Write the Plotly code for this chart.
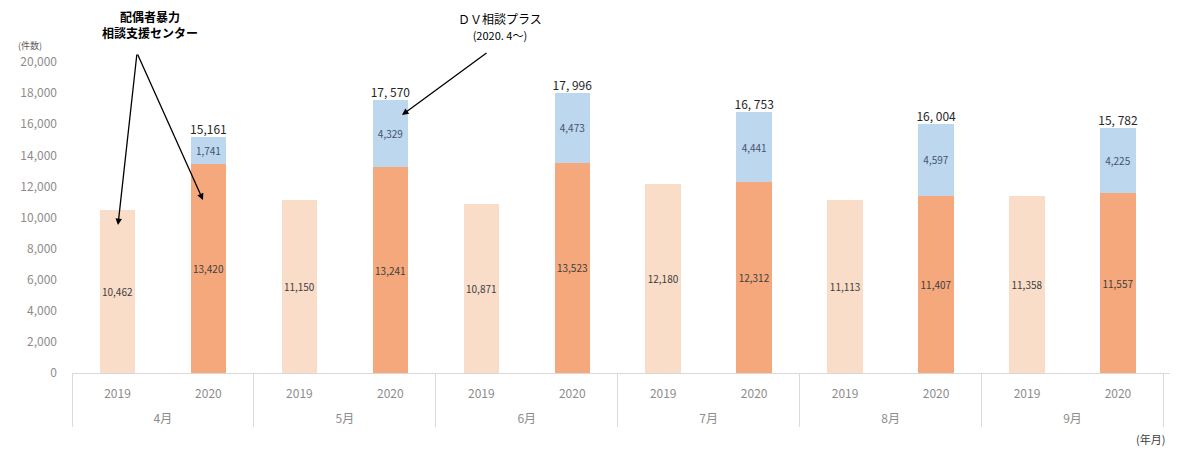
import plotly.graph_objects as go

months = ["4月", "5月", "6月", "7月", "8月", "9月"]
years = ["2019", "2020"]
center_2019 = [10462, 11150, 10871, 12180, 11113, 11358]
center_2020 = [13420, 13241, 13523, 12312, 11407, 11557]
dv_2020 = [1741, 4329, 4473, 4441, 4597, 4225]
total_labels = ["15,161", "17, 570", "17, 996", "16, 753", "16, 004", "15, 782"]

FONT = "Noto Sans CJK JP, Noto Sans, sans-serif"

# outer level labels pushed one line down (as in the reference)
outer = ["<br>" + m for m in months]
x19 = [outer, [years[0]] * len(months)]
x20 = [outer, [years[1]] * len(months)]
totals = [a + b for a, b in zip(center_2020, dv_2020)]

fig = go.Figure()
fig.add_trace(go.Bar(
    x=x19, y=center_2019, marker_color="#F9DDC9", marker_line_width=0,
    text=[f"{v:,}" for v in center_2019], textposition="inside",
    insidetextanchor="middle", textangle=0,
    textfont=dict(size=10, color="#404040"), name="2019"))
fig.add_trace(go.Bar(
    x=x20, y=center_2020, marker_color="#F4A87C", marker_line_width=0,
    text=[f"{v:,}" for v in center_2020], textposition="inside",
    insidetextanchor="middle", textangle=0,
    textfont=dict(size=10, color="#404040"), name="センター"))
fig.add_trace(go.Bar(
    x=x20, y=dv_2020, marker_color="#BDD7EE", marker_line_width=0,
    text=[f"{v:,}" for v in dv_2020], textposition="inside",
    insidetextanchor="middle", textangle=0,
    textfont=dict(size=10, color="#44546A"), name="DV相談プラス"))
fig.add_trace(go.Scatter(
    x=x20, y=totals, mode="text", text=total_labels,
    textposition="top center", textfont=dict(size=12, color="#262626"),
    cliponaxis=False, hoverinfo="skip"))

# page body has an 8px margin: figure spans screen 8..1178 x 8..450
W, H = 1170, 442
L, R, T, B = 64, 5, 54, 77
pw, ph = W - L - R, H - T - B
SX0, SY1 = 72, 373  # screen position of plot left / plot bottom


def px(x):
    return (x - SX0) / pw


def py(y):
    return (SY1 - y) / ph


arrow = dict(showarrow=True, arrowhead=2, arrowsize=1, arrowwidth=1.3,
             arrowcolor="#000000", text="", xref="paper", yref="paper")
txt = dict(xref="paper", yref="paper", showarrow=False,
           xanchor="center", yanchor="middle")
anns = [
    dict(x=px(118), y=py(225), ax=137 - 118, ay=53 - 225, **arrow),
    dict(x=px(203), y=py(200), ax=137 - 203, ay=53 - 200, **arrow),
    dict(x=px(402), y=py(115), ax=488 - 402, ay=52 - 115, **arrow),
    dict(x=px(150), y=py(24), text="<b>配偶者暴力</b><br><b>相談支援センター</b>",
         font=dict(size=12, color="#000000"), align="center", **txt),
    dict(x=px(500), y=py(26),
         text="ＤＶ相談プラス<br><span style='font-size:11px'>(2020. 4～)</span>",
         font=dict(size=12, color="#000000"), align="center", **txt),
    dict(x=px(30), y=py(45), text="(件数)",
         font=dict(size=9, color="#595959"), **txt),
    dict(x=px(1150), y=py(439), text="(年月)",
         font=dict(size=11, color="#404040"), **txt),
]

fig.update_layout(
    width=W, height=H,
    margin=dict(l=L, r=R, t=T, b=B, autoexpand=False),
    barmode="stack", bargap=0.61,
    plot_bgcolor="white", paper_bgcolor="white",
    showlegend=False,
    font=dict(family=FONT, size=11, color="#7F7F7F"),
    uniformtext=dict(minsize=10, mode="show"),
    annotations=anns,
    yaxis=dict(range=[0, 20000], dtick=2000, tickformat=",",
               showgrid=False, zeroline=False, showline=False,
               ticklabelstandoff=14,
               tickfont=dict(size=12, color="#8C8C8C")),
    xaxis=dict(type="multicategory", showline=True, linecolor="#D9D9D9",
               linewidth=1, showgrid=False, showdividers=True,
               dividercolor="#D9D9D9", dividerwidth=1,
               ticklabelstandoff=10,
               tickfont=dict(size=12, color="#8C8C8C")),
)

fig.write_html("out.html")
